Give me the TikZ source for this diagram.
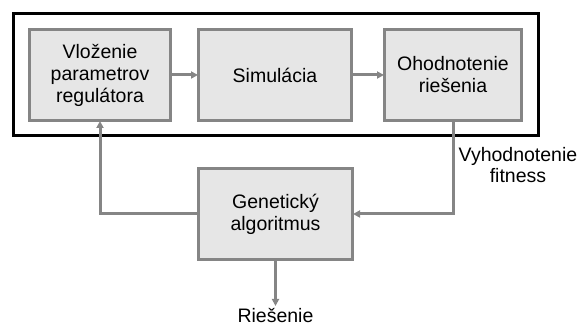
\documentclass[tikz,border=0pt]{standalone}
\usepackage{fontspec}
\setmainfont{Liberation Sans}
\usetikzlibrary{arrows.meta}
\definecolor{linegray}{HTML}{858585}
\definecolor{boxfill}{HTML}{E6E6E6}
\tikzset{
  blk/.style={draw=linegray, line width=3pt, fill=boxfill, align=center,
    font=\fontsize{19.5}{22}\selectfont, inner sep=0pt},
  conn/.style={draw=linegray, line width=3pt},
  arr/.style={conn, -{Triangle[length=7pt,width=7pt]}, shorten >=-1pt},
  lbl/.style={align=center, font=\fontsize{19.5}{21}\selectfont, inner sep=0pt}
}
\begin{document}
\begin{tikzpicture}[x=1pt,y=-1pt]
\useasboundingbox (0,0) rectangle (579,331);
\node[draw=black, line width=3.5pt, minimum width=525pt, minimum height=122pt, inner sep=0pt] (frame) at (276,74.5) {};
\node[blk, minimum width=141pt, minimum height=91pt] (b1) at (100,75) {Vloženie\\parametrov\\regulátora};
\node[blk, minimum width=153pt, minimum height=91pt] (b2) at (275,75) {Simulácia};
\node[blk, minimum width=137pt, minimum height=91pt] (b3) at (453,75) {Ohodnotenie\\riešenia};
\node[blk, minimum width=154pt, minimum height=91pt] (ga) at (275.5,214) {Genetický\\algoritmus};
\coordinate (out) at (275.5,305);
\node[lbl, anchor=base] (res) at (275.5,323) {Riešenie};
\node[lbl, anchor=base] (fit) at (518,183) {Vyhodnotenie\\fitness};
\draw[arr] (b1.east) -- (b2.west);
\draw[arr] (b2.east) -- (b3.west);
\draw[arr] (b3.south) |- (ga.east);
\draw[arr] (ga.west) -| (b1.south);
\draw[arr] (ga.south) -- (out);
\end{tikzpicture}
\end{document}
